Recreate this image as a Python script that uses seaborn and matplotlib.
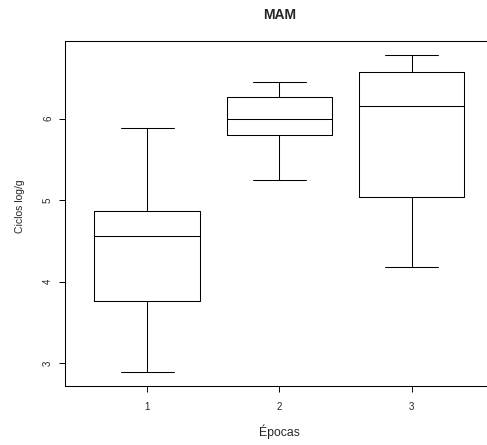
import matplotlib
matplotlib.use("Agg")
import matplotlib.pyplot as plt
import seaborn as sns
import pandas as pd

# Five-number summary per season (min, Q1, median, Q3, max), log cycles per gram
epocas = ["1", "2", "3"]
epoca1 = [2.886, 3.755, 4.555, 4.865, 5.89]
epoca2 = [5.245, 5.795, 5.99, 6.27, 6.45]
epoca3 = [4.18, 5.04, 6.155, 6.575, 6.785]

df = pd.DataFrame({
    "Épocas": [epocas[0]] * len(epoca1) + [epocas[1]] * len(epoca2) + [epocas[2]] * len(epoca3),
    "Ciclos log/g": epoca1 + epoca2 + epoca3,
})

sns.set_style("white")
plt.rcParams["font.family"] = ["Liberation Sans", "DejaVu Sans"]

fig = plt.figure(figsize=(4.87, 4.45), dpi=100)
ax = fig.add_axes([0.134, 0.1333, 0.8795, 0.7753])

lw = 0.75
sns.boxplot(
    data=df, x="Épocas", y="Ciclos log/g", order=epocas, ax=ax,
    width=0.8, fill=False, color="black", linewidth=lw, whis=1.5,
    showfliers=False,
)

ax.set_xlim(-0.62, 2.62)
ax.set_ylim(2.721, 6.958)
ax.set_yticks([3, 4, 5, 6])
for lbl in ax.get_yticklabels():
    lbl.set_rotation(90)
    lbl.set_va("center")

ax.tick_params(axis="both", which="both", direction="out", length=4.3, width=0.7,
               color="black", labelsize=7, left=True, bottom=True)
ax.tick_params(axis="x", pad=7.5)
ax.tick_params(axis="y", pad=4.5)
for side in ["left", "bottom", "top"]:
    ax.spines[side].set_color("black")
    ax.spines[side].set_linewidth(0.75)
ax.spines["right"].set_visible(False)

ax.set_xlabel("Épocas", fontsize=8.8, labelpad=9)
ax.set_ylabel("Ciclos log/g", fontsize=7.5)
ax.yaxis.set_label_coords(-0.094, 0.52)
ax.set_title("MAM", fontsize=10, fontweight="bold", pad=15.5)

fig.savefig("out.png", dpi=100)
